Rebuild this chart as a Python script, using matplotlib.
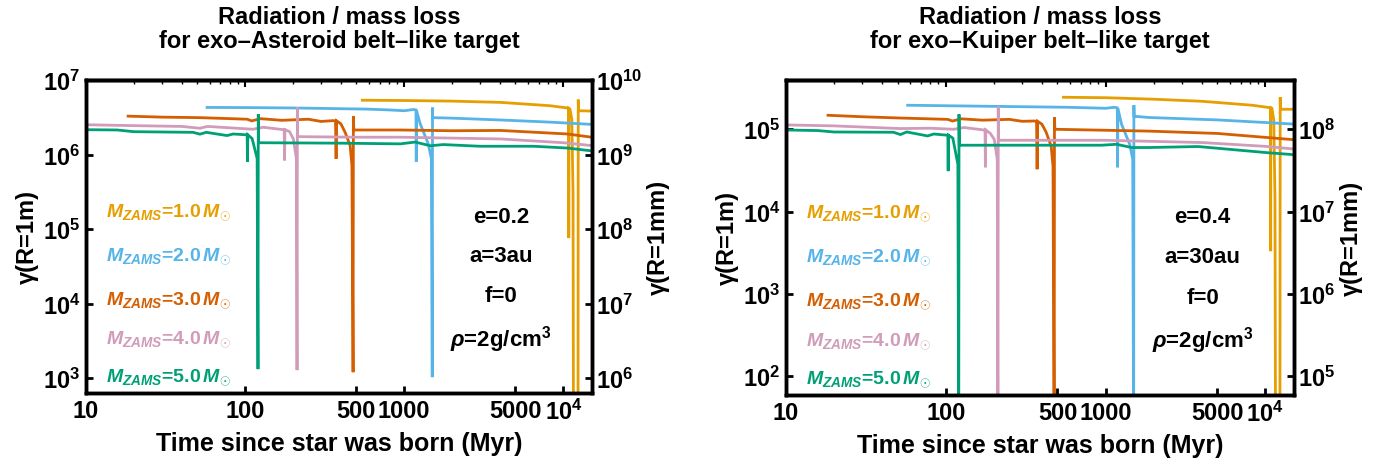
import matplotlib
matplotlib.use("Agg")
import matplotlib.pyplot as plt
from matplotlib.ticker import FixedLocator, FixedFormatter, LogLocator, NullLocator, NullFormatter

plt.rcParams['font.family'] = ['Liberation Sans', 'DejaVu Sans']
plt.rcParams['font.weight'] = 'bold'
plt.rcParams['axes.labelweight'] = 'bold'
plt.rcParams['mathtext.fontset'] = 'custom'
plt.rcParams['mathtext.rm'] = 'Liberation Sans:bold'
plt.rcParams['mathtext.it'] = 'Liberation Sans:bold:italic'
plt.rcParams['mathtext.bf'] = 'Liberation Sans:bold'

# masses and colours
masses = ['1.0', '2.0', '3.0', '4.0', '5.0']
colors = ['#E69F00', '#56B4E9', '#D55E00', '#D19BBA', '#00A077']

# ---- exo-Asteroid belt (gamma for R = 1 m) ----
t_ast_m1 = [545, 1000, 2000, 4020, 8280, 10600, 10800, 10810, 10820, 11000, 11300, 11500, 11600, 12350, 12400, 12450, 16000]
g_ast_m1 = [5.4e6, 5.35e6, 5.25e6, 5.05e6, 4.55e6, 4.25e6, 4.2e6, 7.6e4, 4.2e6, 4.1e6, 3.0e6, 3e5, 10, 10, 5.5e6, 3.9e6, 3.85e6]

t_ast_m2 = [57.7, 100, 200, 585, 800, 1000, 1140, 1185, 1190, 1195, 1260, 1416, 1480, 1500, 1505, 1510, 2000, 4020, 8000, 16000]
g_ast_m2 = [4.32e6, 4.3e6, 4.25e6, 4.1e6, 4.0e6, 3.9e6, 4.05e6, 4.0e6, 8.1e5, 3.9e6, 2.6e6, 1.4e6, 8.9e5, 1.03e3, 4.3e6, 3.15e6, 3.1e6, 2.93e6, 2.75e6, 2.54e6]

t_ast_m3 = [18.4, 30, 52, 103, 110, 125, 170, 250, 300, 357, 370, 373, 376, 400, 425, 457, 469, 477, 479, 482, 945, 2000, 4020, 10600, 16000]
g_ast_m3 = [3.3e6, 3.2e6, 3.15e6, 3.0e6, 2.85e6, 3.05e6, 2.9e6, 3.0e6, 2.8e6, 2.87e6, 2.85e6, 8.8e5, 2.85e6, 2.6e6, 2.0e6, 1.33e6, 7.2e5, 1.2e3, 3.3e6, 2.15e6, 2.15e6, 2.1e6, 2.12e6, 1.9e6, 1.69e6]

t_ast_m4 = [10, 20, 40, 52, 58, 80, 112, 130, 174, 176, 177, 178, 190, 201, 210, 212, 213, 214, 500, 945, 4020, 10000, 16000]
g_ast_m4 = [2.53e6, 2.46e6, 2.4e6, 2.27e6, 2.4e6, 2.3e6, 2.2e6, 2.34e6, 2.17e6, 2.17e6, 8.4e5, 2.17e6, 2.05e6, 1.63e6, 8.9e5, 1.28e3, 4.37e6, 1.75e6, 1.72e6, 1.72e6, 1.63e6, 1.45e6, 1.31e6]

t_ast_m5 = [10, 15.7, 20, 47, 52, 57, 77, 84, 103, 103.5, 104, 110.7, 119, 120.5, 121, 121.5, 400, 945, 1170, 1460, 1760, 3000, 6470, 10600, 16000]
g_ast_m5 = [2.17e6, 2.15e6, 2.04e6, 2.0e6, 1.89e6, 2.0e6, 1.81e6, 1.9e6, 1.85e6, 8.1e5, 1.85e6, 1.65e6, 8.9e5, 1.32e3, 3.5e6, 1.45e6, 1.43e6, 1.4e6, 1.48e6, 1.32e6, 1.37e6, 1.3e6, 1.3e6, 1.23e6, 1.11e6]

# ---- exo-Kuiper belt (gamma for R = 1 m) ----
t_kb_m1 = [545, 1000, 2000, 4000, 8280, 10500, 10800, 10810, 10820, 11000, 11300, 11500, 11600, 12350, 12400, 12450, 16000]
g_kb_m1 = [2.45e5, 2.42e5, 2.32e5, 2.19e5, 1.96e5, 1.84e5, 1.82e5, 3.3e3, 1.82e5, 1.8e5, 1.3e5, 1.5e4, 10, 10, 2.45e5, 1.75e5, 1.75e5]

t_kb_m2 = [57.7, 200, 585, 1000, 1140, 1185, 1190, 1195, 1260, 1416, 1480, 1500, 1505, 1510, 1870, 5000, 16000]
g_kb_m2 = [1.96e5, 1.9e5, 1.85e5, 1.8e5, 1.85e5, 1.82e5, 3.45e4, 1.8e5, 1.15e5, 6.6e4, 4.32e4, 10, 1.96e5, 1.44e5, 1.39e5, 1.3e5, 1.15e5]

t_kb_m3 = [18.3, 30, 52, 103, 110, 125, 170, 250, 300, 357, 370, 373, 376, 400, 425, 457, 469, 477, 479, 482, 1870, 5000, 16000]
g_kb_m3 = [1.48e5, 1.42e5, 1.37e5, 1.32e5, 1.26e5, 1.34e5, 1.29e5, 1.32e5, 1.25e5, 1.26e5, 1.25e5, 3.27e4, 1.25e5, 1.15e5, 9.2e4, 6.2e4, 3.55e4, 10, 1.4e5, 1.0e5, 9.5e4, 8.9e4, 7.4e4]

t_kb_m4 = [10, 20, 52, 80, 112, 130, 174, 176, 177, 178, 190, 201, 210, 212, 213, 214, 1000, 4000, 10000, 16000]
g_kb_m4 = [1.13e5, 1.1e5, 1.02e5, 1.03e5, 1.0e5, 1.05e5, 9.8e4, 9.8e4, 3.45e4, 9.8e4, 8.9e4, 7.55e4, 4.32e4, 10, 1.9e5, 7.35e4, 7.35e4, 6.9e4, 6.2e4, 5.7e4]

t_kb_m5 = [10, 15.7, 20, 47, 52, 57, 77, 84, 103, 103.5, 104, 110.7, 119, 120.5, 121, 121.5, 400, 945, 1170, 1460, 1870, 3800, 10200, 16000]
g_kb_m5 = [9.8e4, 9.65e4, 9.27e4, 9.2e4, 8.63e4, 9.27e4, 8.3e4, 8.76e4, 8.46e4, 3.1e4, 8.46e4, 7.8e4, 3.76e4, 10, 1.52e5, 6.4e4, 6.4e4, 6.4e4, 6.57e4, 6.0e4, 6.0e4, 6.17e4, 5.2e4, 4.87e4]

x_ticks = [10, 100, 500, 1000, 5000, 10000]
x_ticklabels = ['10', '100', '500', '1000', '5000', r'$\mathdefault{10^{4}}$']


def draw_panel(ax, series, ylim, title, params):
    for (t, g), c in zip(series, colors):
        ax.plot(t, g, color=c, lw=2.0, solid_joinstyle='miter')
    ax.set_xscale('log')
    ax.set_yscale('log')
    ax.set_xlim(10, 10 ** 4.18)
    ax.set_ylim(*ylim)
    ax.xaxis.set_major_locator(FixedLocator(x_ticks))
    ax.xaxis.set_major_formatter(FixedFormatter(x_ticklabels))
    ax.xaxis.set_minor_locator(NullLocator())
    ax.yaxis.set_major_locator(LogLocator(base=10, numticks=20))
    ax.yaxis.set_minor_locator(NullLocator())
    ax.tick_params(direction='in', length=5, width=2, labelsize=17, pad=4)
    for s in ax.spines.values():
        s.set_linewidth(2.5)

    top = ax.secondary_xaxis('top')
    top.xaxis.set_major_locator(LogLocator(base=10))
    top.xaxis.set_minor_locator(LogLocator(base=10, subs=range(2, 10), numticks=20))
    top.xaxis.set_major_formatter(NullFormatter())
    top.xaxis.set_minor_formatter(NullFormatter())
    top.tick_params(which='major', direction='in', length=5, width=1.5)
    top.tick_params(which='minor', direction='in', length=3, width=1)
    top.spines['top'].set_linewidth(2.5)

    ax2 = ax.twinx()
    ax2.set_yscale('log')
    ax2.set_ylim(ylim[0] * 1000, ylim[1] * 1000)
    ax2.yaxis.set_major_locator(LogLocator(base=10, numticks=20))
    ax2.yaxis.set_minor_locator(NullLocator())
    ax2.tick_params(direction='in', length=5, width=2, labelsize=17, pad=3)
    for s in ax2.spines.values():
        s.set_linewidth(2.5)

    ax.set_xlabel('Time since star was born (Myr)', fontsize=18, labelpad=5)
    ax.set_ylabel('γ(R=1m)', fontsize=17, labelpad=3)
    ax2.set_ylabel('γ(R=1mm)', fontsize=17, rotation=90, labelpad=3)
    ax.set_title(title, fontsize=17, fontweight='bold', pad=24, linespacing=1.05)

    for i, (m, c) in enumerate(zip(masses, colors)):
        ax.text(0.04, legend_y[i], r'$M_{ZAMS}$=' + m + r'$\,M_{\odot}$',
                transform=ax.transAxes, color=c, fontsize=14, va='center', ha='left')
    for i, p in enumerate(params):
        ax.text(0.82, param_y[i], p, transform=ax.transAxes, fontsize=16,
                va='center', ha='center')


legend_y = [0.58, 0.44, 0.30, 0.175, 0.055]
param_y = [0.565, 0.44, 0.31, 0.175]

fig = plt.figure(figsize=(13.8, 4.64), dpi=100)
ax_l = fig.add_axes([0.0623, 0.1509, 0.3667, 0.6746])
ax_r = fig.add_axes([0.5696, 0.1466, 0.3681, 0.679])

draw_panel(ax_l,
           [(t_ast_m1, g_ast_m1), (t_ast_m2, g_ast_m2), (t_ast_m3, g_ast_m3),
            (t_ast_m4, g_ast_m4), (t_ast_m5, g_ast_m5)],
           (10 ** 2.8, 1.01e7),
           'Radiation / mass loss\nfor exo–Asteroid belt–like target',
           ['e=0.2', 'a=3au', 'f=0', r'$\rho$=2g/cm$^{3}$'])
draw_panel(ax_r,
           [(t_kb_m1, g_kb_m1), (t_kb_m2, g_kb_m2), (t_kb_m3, g_kb_m3),
            (t_kb_m4, g_kb_m4), (t_kb_m5, g_kb_m5)],
           (10 ** 1.77, 10 ** 5.6),
           'Radiation / mass loss\nfor exo–Kuiper belt–like target',
           ['e=0.4', 'a=30au', 'f=0', r'$\rho$=2g/cm$^{3}$'])

fig.savefig('out.png', dpi=100)
